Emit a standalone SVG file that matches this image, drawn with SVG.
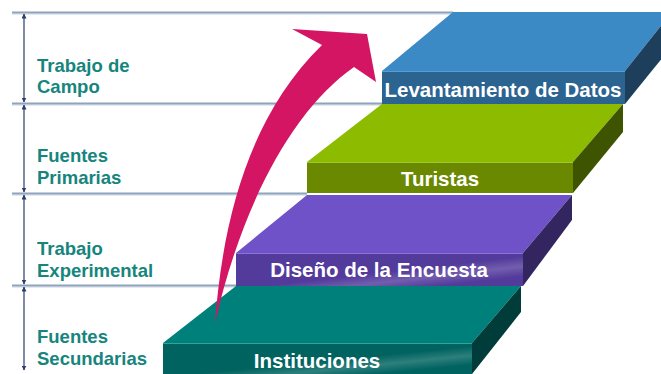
<svg xmlns="http://www.w3.org/2000/svg" width="661" height="374" viewBox="0 0 661 374">
<defs>
<style>
.guide{stroke:#8ea3bd;stroke-width:2;fill:none}
.guide2{stroke:#c9d3df;stroke-width:1;fill:none}
.dim{stroke:#2b3f68;stroke-width:1.2;fill:none;marker-start:url(#ah);marker-end:url(#ah)}
.lbl{font-family:"Liberation Sans",Arial,sans-serif;font-weight:bold;font-size:18.5px;fill:#16857d}
.step{font-family:"Liberation Sans",Arial,sans-serif;font-weight:bold;font-size:20.5px;fill:#ffffff;text-anchor:middle}
</style>
<marker id="ah" viewBox="0 0 10 10" refX="9" refY="5" markerWidth="5" markerHeight="5" orient="auto-start-reverse" markerUnits="userSpaceOnUse">
<path d="M0,0 L10,5 L0,10 z" fill="#2b3f68"/>
</marker>
<linearGradient id="sheen" x1="0" y1="0" x2="1" y2="1">
<stop offset="0" stop-color="#fff" stop-opacity="0"/>
<stop offset="0.55" stop-color="#fff" stop-opacity="0"/>
<stop offset="0.7" stop-color="#fff" stop-opacity="0.18"/>
<stop offset="0.85" stop-color="#fff" stop-opacity="0"/>
</linearGradient>
</defs>
<rect width="661" height="374" fill="#ffffff"/>

<g id="guides">
<line class="guide2" x1="12" y1="14" x2="453" y2="14"/>
<line class="guide" x1="12" y1="12.5" x2="453" y2="12.5"/>
<line class="guide2" x1="12" y1="105" x2="382" y2="105"/>
<line class="guide" x1="12" y1="103.5" x2="382" y2="103.5"/>
<line class="guide2" x1="12" y1="195" x2="307" y2="195"/>
<line class="guide" x1="12" y1="193.5" x2="307" y2="193.5"/>
<line class="guide2" x1="12" y1="287" x2="236" y2="287"/>
<line class="guide" x1="12" y1="285.5" x2="236" y2="285.5"/>
</g>

<g id="dimensions">
<line class="dim" x1="24" y1="14" x2="24" y2="102"/>
<line class="dim" x1="24" y1="105" x2="24" y2="192"/>
<line class="dim" x1="24" y1="195" x2="24" y2="284"/>
<line class="dim" x1="24" y1="287" x2="24" y2="370"/>
</g>

<g id="label-campo">
<text class="lbl" x="37" y="72">Trabajo de</text>
<text class="lbl" x="37" y="93">Campo</text>
</g>
<g id="label-primarias">
<text class="lbl" x="37" y="162">Fuentes</text>
<text class="lbl" x="37" y="184">Primarias</text>
</g>
<g id="label-experimental">
<text class="lbl" x="37" y="255">Trabajo</text>
<text class="lbl" x="37" y="277">Experimental</text>
</g>
<g id="label-secundarias">
<text class="lbl" x="37" y="343">Fuentes</text>
<text class="lbl" x="37" y="365">Secundarias</text>
</g>

<g id="step-instituciones">
<polygon points="163,343 236,286 521,286 472,343" fill="#00807b"/>
<polygon points="472,343 521,286 521,312 472,374" fill="#003c3a"/>
<rect x="163" y="343" width="309" height="31" fill="#006360"/>
<rect x="163" y="343" width="309" height="31" fill="url(#sheen)"/>
<line x1="163" y1="343.5" x2="472" y2="343.5" stroke="#2fa39c" stroke-width="1"/>
<text class="step" x="317" y="368">Instituciones</text>
</g>

<g id="step-diseno">
<polygon points="236,253 307,195 572,195 523,253" fill="#6f52c8"/>
<polygon points="523,253 572,195 572,220 523,286" fill="#33255f"/>
<rect x="236" y="253" width="287" height="33" fill="#533b9c"/>
<rect x="236" y="253" width="287" height="33" fill="url(#sheen)"/>
<line x1="236" y1="253.5" x2="523" y2="253.5" stroke="#8a73d6" stroke-width="1"/>
<text class="step" x="379" y="277">Diseño de la Encuesta</text>
</g>

<g id="step-turistas">
<polygon points="307,162 382,104 623,104 573,162" fill="#8cbb00"/>
<polygon points="573,162 623,104 623,132 573,193" fill="#3e5400"/>
<rect x="307" y="162" width="266" height="31" fill="#6a8900"/>
<line x1="307" y1="162.5" x2="573" y2="162.5" stroke="#9fc830" stroke-width="1"/>
<text class="step" x="440" y="186">Turistas</text>
</g>

<g id="step-levantamiento">
<polygon points="382,71 453,12 672,12 625,71" fill="#3b89c5"/>
<polygon points="625,71 672,12 672,46 625,104" fill="#1e3f5c"/>
<rect x="382" y="71" width="243" height="33" fill="#2b6391"/>
<line x1="382" y1="71.5" x2="625" y2="71.5" stroke="#5a9dd0" stroke-width="1"/>
<text class="step" x="503" y="97">Levantamiento de Datos</text>
</g>

<g id="connectors">
<path d="M215,323 C222,230 245,120 322,45 L292,29 L367,34 L376,82 L354,67 C295,108 243,200 215,323 Z" fill="#d31563"/>
</g>
</svg>
